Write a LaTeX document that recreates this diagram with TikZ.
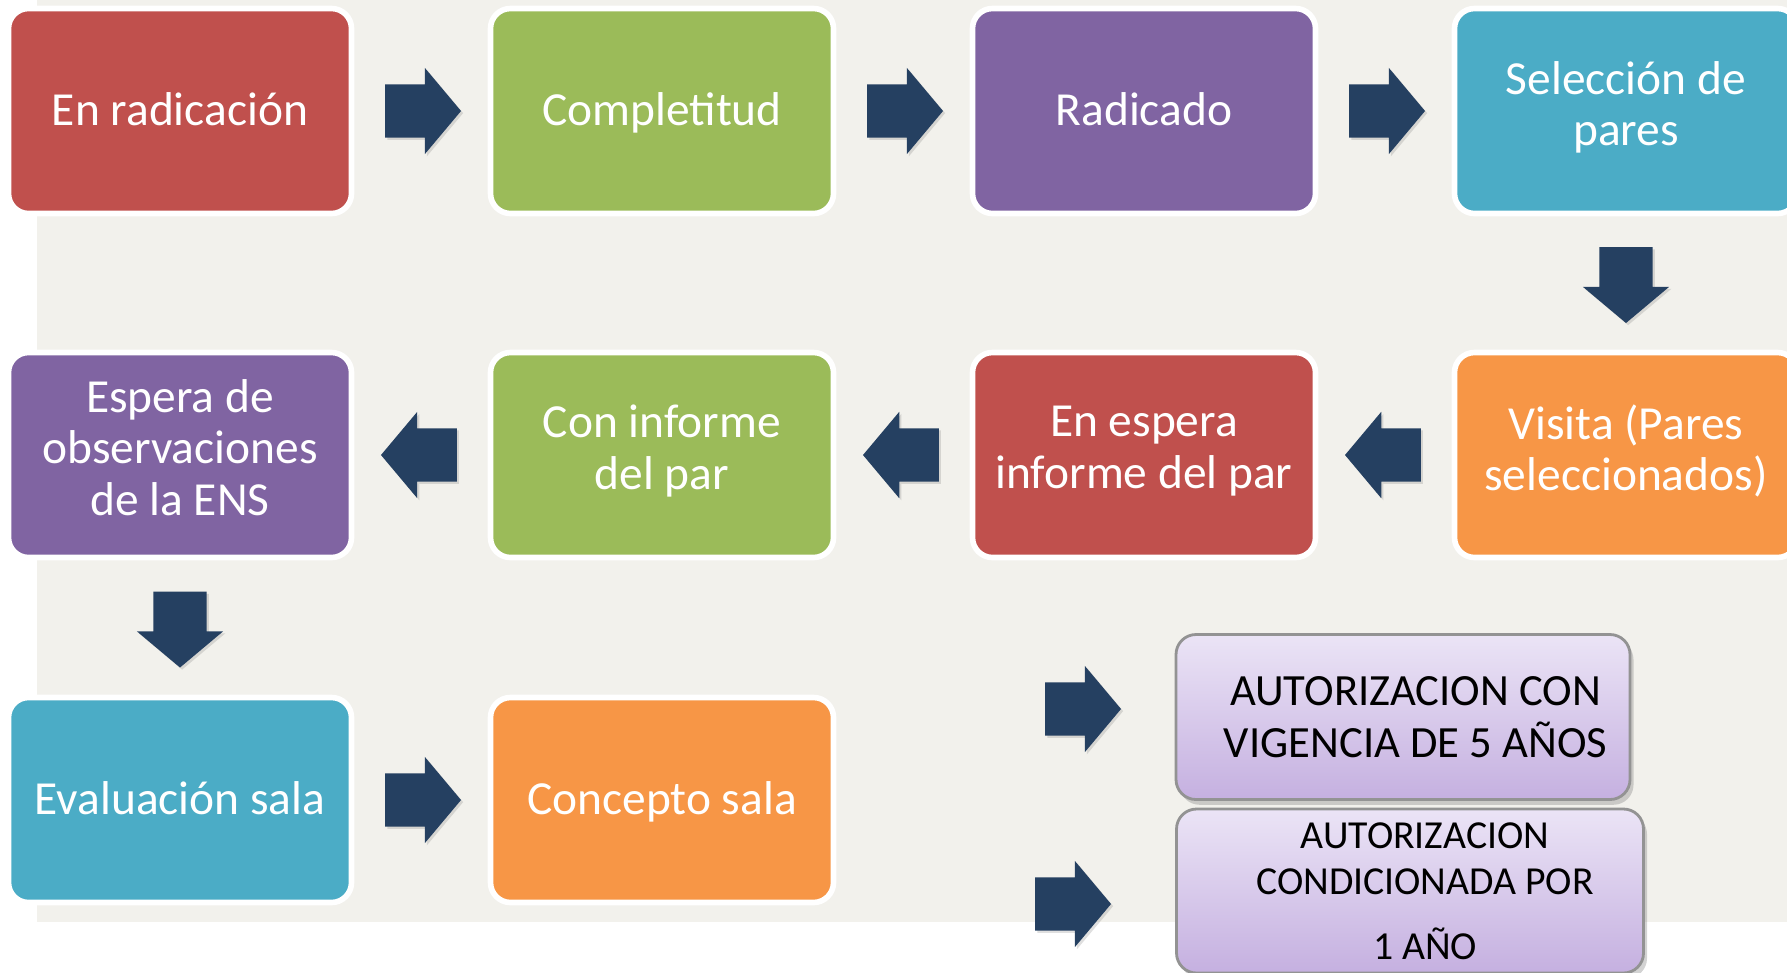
\documentclass[tikz,border=0pt]{standalone}
\usepackage{fontspec}
\setmainfont{Carlito}
\usetikzlibrary{shapes.arrows,shadows}

\definecolor{stagered}{HTML}{C0504D}
\definecolor{stagegreen}{HTML}{9BBB59}
\definecolor{stagepurple}{HTML}{8064A2}
\definecolor{stageteal}{HTML}{4BACC6}
\definecolor{stageorange}{HTML}{F79646}
\definecolor{arrownavy}{HTML}{254061}
\definecolor{pagegray}{HTML}{F2F1EC}
\definecolor{lilactop}{HTML}{EBE4F6}
\definecolor{lilacbot}{HTML}{C5B0E0}

\tikzset{
  stage/.style={rounded corners=0.2cm, draw=white, line width=1.6pt,
    minimum width=3.43cm, minimum height=2.05cm, inner sep=0pt,
    text=white, align=center, font=\fontsize{13.5}{14.6}\selectfont,
    execute at begin node=\rule{0pt}{12.4pt}, execute at end node=\strut},
  blockarrow/.style={single arrow, fill=arrownavy, inner sep=0.26cm,
    minimum height=0.73cm, minimum width=0.85cm, anchor=tail,
    single arrow head extend=0.165cm, single arrow tip angle=100,
    drop shadow={opacity=0.25, shadow xshift=0.6pt, shadow yshift=-0.6pt}},
  rarrow/.style={blockarrow, xshift=-0.365cm},
  larrow/.style={blockarrow, shape border rotate=180, xshift=0.365cm},
  darrow/.style={blockarrow, shape border rotate=270, yshift=0.365cm},
  verdict/.style={rounded corners=0.2cm, draw=gray!85, line width=0.8pt,
    top color=lilactop, bottom color=lilacbot, inner sep=0pt, align=center,
    drop shadow={opacity=0.35, shadow xshift=1pt, shadow yshift=-1.5pt}}
}

\begin{document}
\begin{tikzpicture}

  \useasboundingbox (0,0) rectangle (17.87,-9.72);
  \fill[pagegray] (0.37,0) rectangle (17.87,-9.22);

  \begin{scope}[every node/.style={stage}]
    \node[fill=stagered]    (radicacion)  at (1.80,-1.11)  {En radicación};
    \node[fill=stagegreen]  (completitud) at (6.62,-1.11)  {Completitud};
    \node[fill=stagepurple] (radicado)    at (11.44,-1.11) {Radicado};
    \node[fill=stageteal]   (seleccion)   at (16.26,-1.11) {Selección de\\pares};
    \node[fill=stagepurple] (espera)      at (1.80,-4.55)  {Espera de\\observaciones\\de la ENS};
    \node[fill=stagegreen]  (informe)     at (6.62,-4.55)  {Con informe\\del par};
    \node[fill=stagered]    (enespera)    at (11.44,-4.55) {En espera\\informe del par};
    \node[fill=stageorange] (visita)      at (16.26,-4.55) {Visita (Pares\\seleccionados)};
    \node[fill=stageteal]   (evaluacion)  at (1.80,-8.00)  {Evaluación sala};
    \node[fill=stageorange] (concepto)    at (6.62,-8.00)  {Concepto sala};
  \end{scope}

  \node[verdict, minimum width=4.54cm, minimum height=1.65cm,
        font=\fontsize{12.7}{14.8}\selectfont] (cinco) at (14.03,-7.17)
        {\hspace*{0.25cm}AUTORIZACION CON\\\hspace*{0.25cm}VIGENCIA DE 5 AÑOS};
  \node[verdict, minimum width=4.67cm, minimum height=1.64cm,
        font=\fontsize{11.3}{13.1}\selectfont] (uno) at (14.10,-8.91)
        {\hspace*{0.3cm}AUTORIZACION\\\hspace*{0.3cm}CONDICIONADA POR\\[5.4pt]\hspace*{0.3cm}1 AÑO};

  \path (radicacion) -- node[rarrow] {} (completitud);
  \path (completitud) -- node[rarrow] {} (radicado);
  \path (radicado) -- node[rarrow] {} (seleccion);
  \path (seleccion) -- node[darrow] {} (visita);
  \path (visita) -- node[larrow] {} (enespera);
  \path (enespera) -- node[larrow] {} (informe);
  \path (informe) -- node[larrow] {} (espera);
  \path (espera) -- node[darrow] {} (evaluacion);
  \path (evaluacion) -- node[rarrow] {} (concepto);

  \node[rarrow] (haciacinco) at (10.81,-7.09) {};
  \node[rarrow] (haciauno)   at (10.71,-9.04) {};

\end{tikzpicture}
\end{document}
